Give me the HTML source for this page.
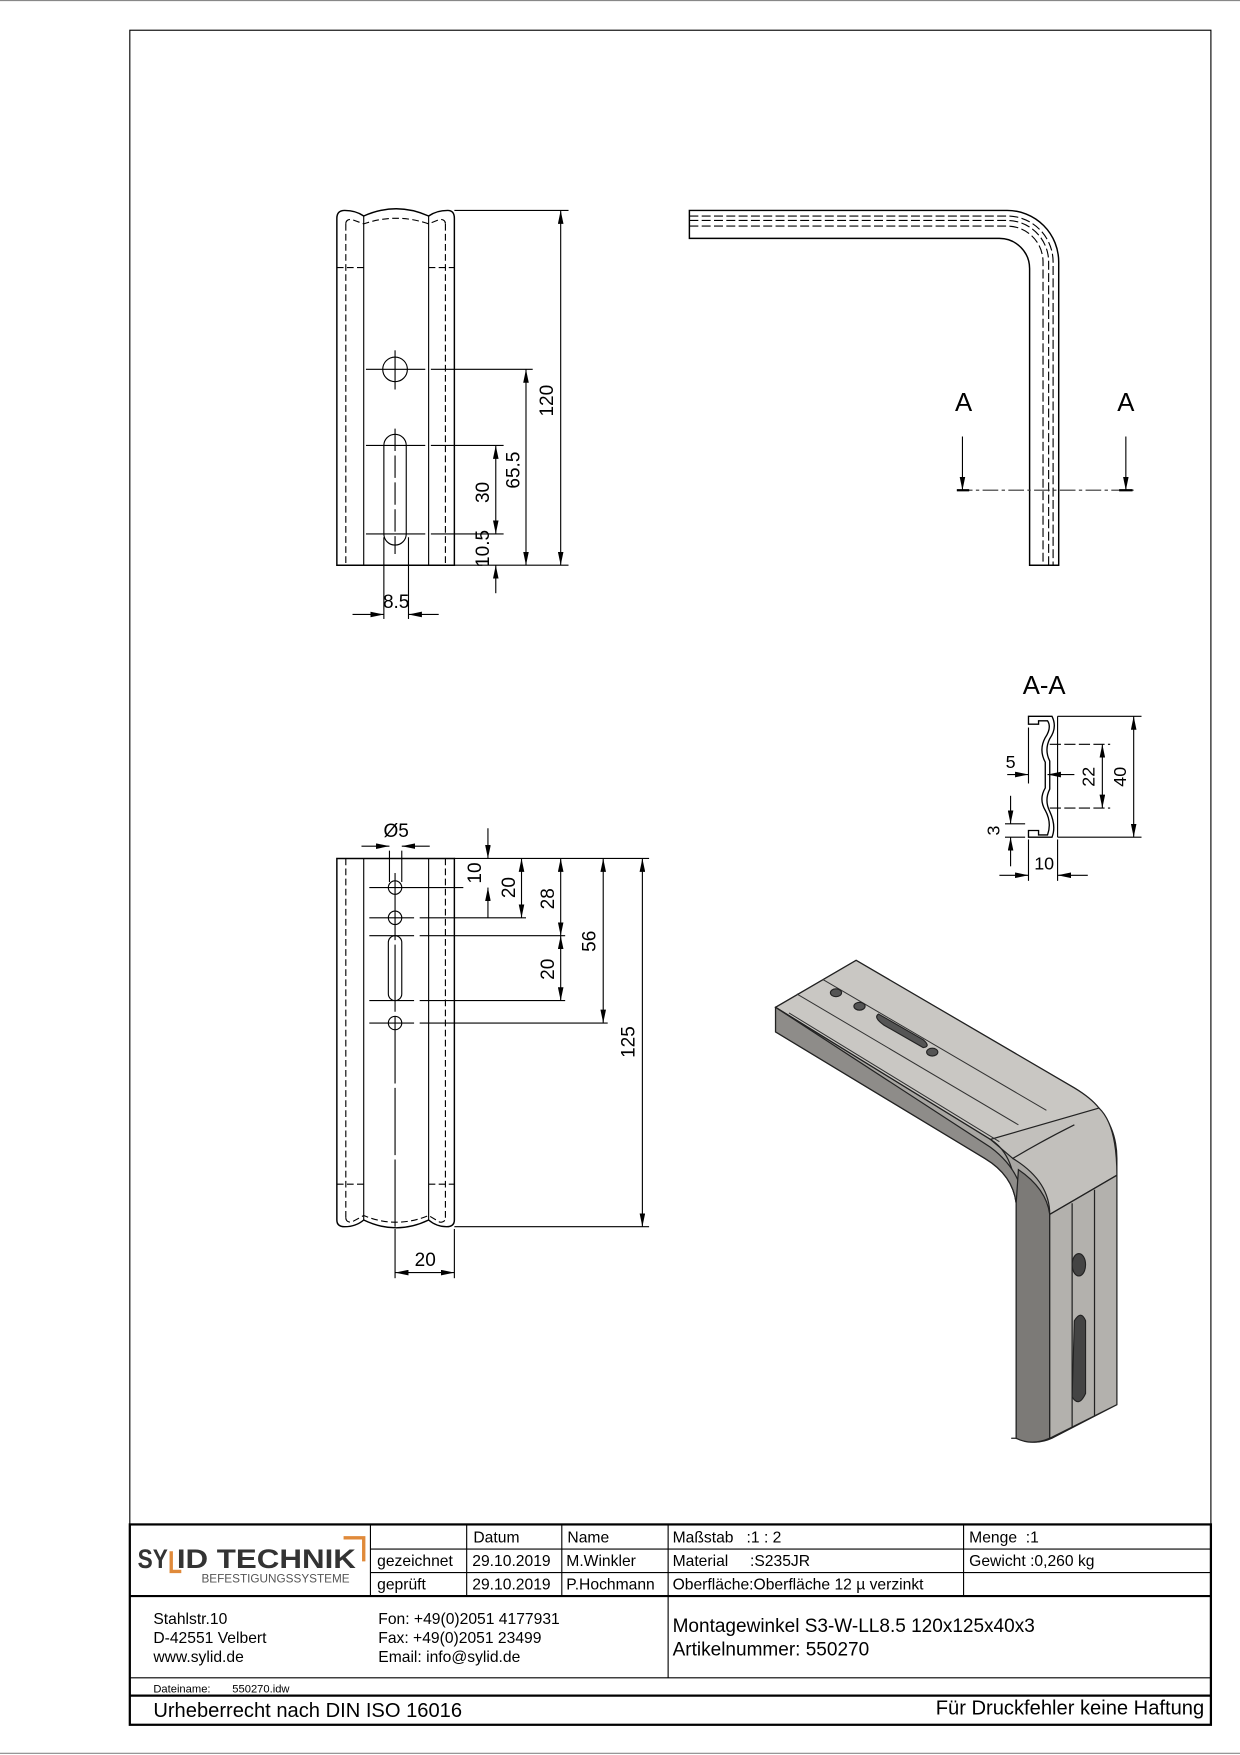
<!DOCTYPE html>
<html><head><meta charset="utf-8"><style>
html,body{margin:0;padding:0;background:#fff}
svg{display:block}
text{font-family:"Liberation Sans",sans-serif;fill:#000}
</style></head><body>
<svg width="1240" height="1755" viewBox="0 0 1108 1568" preserveAspectRatio="none" xmlns="http://www.w3.org/2000/svg">
<defs>
<marker id="a" viewBox="0 0 12 5" refX="12" refY="2.5" markerWidth="12" markerHeight="5" orient="auto-start-reverse" markerUnits="userSpaceOnUse"><path d="M0,0 L12,2.5 L0,5z" fill="#000"/></marker>
</defs>
<g stroke="#000" fill="none" stroke-width="1">
<line x1="0" y1="0.5" x2="1108" y2="0.5" stroke="#888"/>
<line x1="0" y1="1566.5" x2="1108" y2="1566.5" stroke="#888"/>
<rect x="116" y="27" width="966" height="1514" stroke-width="1"/>

<!-- Front view 1 -->
<path d="M301,505 V195 Q301,188 308,188 Q318,188 325,193 Q354,180 383,193 Q390,188 400,188 Q406,188 406,195 V505 Z" stroke-width="1.3"/>
<line x1="325" y1="193" x2="325" y2="505"/><line x1="383" y1="193" x2="383" y2="505"/>
<g stroke-dasharray="6,3">
<line x1="309" y1="200" x2="309" y2="505"/><line x1="398" y1="200" x2="398" y2="505"/>
<path d="M309,200 Q309,196 314,196 L325,200 Q354,190 383,200 L393,196 Q398,196 398,200"/>
<line x1="301" y1="239" x2="325" y2="239"/><line x1="383" y1="239" x2="406" y2="239"/>
</g>
<circle cx="353" cy="330" r="11"/>
<path d="M343,398 A10,10 0 0 1 363,398 V477 A10,10 0 0 1 343,477 Z"/>
<line x1="353" y1="313" x2="353" y2="348"/><line x1="353" y1="383" x2="353" y2="495" stroke-dasharray="20,4"/>
<line x1="327" y1="330" x2="380" y2="330"/><line x1="327" y1="398" x2="380" y2="398"/><line x1="327" y1="477" x2="380" y2="477"/>
<line x1="385" y1="330" x2="476" y2="330"/><line x1="385" y1="398" x2="450" y2="398"/><line x1="385" y1="477" x2="450" y2="477"/>
<line x1="406" y1="188" x2="508" y2="188"/><line x1="406" y1="505" x2="508" y2="505"/>
<line x1="501" y1="188" x2="501" y2="505" marker-start="url(#a)" marker-end="url(#a)"/>
<line x1="470" y1="330" x2="470" y2="505" marker-start="url(#a)" marker-end="url(#a)"/>
<line x1="443" y1="398" x2="443" y2="477" marker-start="url(#a)" marker-end="url(#a)"/>
<line x1="443" y1="530" x2="443" y2="505" marker-end="url(#a)"/>
<line x1="427" y1="505" x2="431" y2="505"/>
<line x1="343" y1="480" x2="343" y2="553"/><line x1="365" y1="480" x2="365" y2="553"/>
<line x1="315" y1="549" x2="343" y2="549" marker-end="url(#a)"/><line x1="392" y1="549" x2="365" y2="549" marker-end="url(#a)"/>
</g>
<text x="354" y="543" font-size="17" text-anchor="middle">8.5</text>
<text transform="translate(494,358) rotate(-90)" font-size="17" text-anchor="middle">120</text>
<text transform="translate(464,420) rotate(-90)" font-size="17" text-anchor="middle">65.5</text>
<text transform="translate(437,440) rotate(-90)" font-size="17" text-anchor="middle">30</text>
<text transform="translate(437,490) rotate(-90)" font-size="17" text-anchor="middle">10.5</text>

<!-- Side view -->
<g stroke="#000" fill="none">
<path d="M616,188 H900 A46,46 0 0 1 946,234 V505 H920 V240 A27,27 0 0 0 893,213 H616 Z" stroke-width="1.3"/>
<g stroke-dasharray="8,3">
<path d="M616,193 H900 A41,41 0 0 1 941,234 V505"/>
<path d="M616,197 H900 A37,37 0 0 1 937,234 V505"/>
<path d="M616,202 H900 A32,32 0 0 1 932,234 V505"/>
</g>
<line x1="855" y1="438" x2="1013" y2="438" stroke-dasharray="14,3,3,3" stroke="#333"/>
<line x1="855" y1="438" x2="866" y2="438" stroke-width="2"/><line x1="1000" y1="438" x2="1012" y2="438" stroke-width="2"/>
<line x1="860" y1="390" x2="860" y2="438" marker-end="url(#a)"/>
<line x1="1006" y1="390" x2="1006" y2="438" marker-end="url(#a)"/>
</g>
<text x="861" y="367" font-size="23" text-anchor="middle">A</text>
<text x="1006" y="367" font-size="23" text-anchor="middle">A</text>

<!-- Section A-A -->
<text x="933" y="620" font-size="23" text-anchor="middle">A-A</text>
<g stroke="#000" fill="none">
<path d="M919,640 H940 Q945,650 938,660 Q933,670 938,680 V705 Q933,715 938,725 Q944,738 940,748 H919 V742 H928 V746 H936 Q940,735 934,724 Q928,714 934,704 V681 Q928,670 934,659 Q940,650 936,644 H928 V647 H919 Z" stroke-width="1.2"/>
<line x1="945" y1="640" x2="945" y2="748"/>
<line x1="945" y1="640" x2="1020" y2="640"/><line x1="945" y1="748" x2="1020" y2="748"/>
<line x1="1013" y1="640" x2="1013" y2="748" marker-start="url(#a)" marker-end="url(#a)"/>
<line x1="938" y1="665" x2="992" y2="665" stroke-dasharray="10,3"/><line x1="938" y1="722" x2="992" y2="722" stroke-dasharray="10,3"/>
<line x1="985" y1="665" x2="985" y2="722" marker-start="url(#a)" marker-end="url(#a)"/>
<line x1="919" y1="650" x2="919" y2="700"/>
<line x1="900" y1="692" x2="919" y2="692" marker-end="url(#a)"/><line x1="960" y1="692" x2="936" y2="692" marker-end="url(#a)"/>
<line x1="919" y1="750" x2="919" y2="787"/><line x1="945" y1="750" x2="945" y2="787"/>
<line x1="893" y1="782" x2="919" y2="782" marker-end="url(#a)"/><line x1="972" y1="782" x2="945" y2="782" marker-end="url(#a)"/>
<line x1="903" y1="711" x2="903" y2="736" marker-end="url(#a)"/><line x1="903" y1="774" x2="903" y2="748" marker-end="url(#a)"/>
<line x1="898" y1="736" x2="916" y2="736"/><line x1="898" y1="748" x2="916" y2="748"/>
</g>
<text x="903" y="686" font-size="16" text-anchor="middle">5</text>
<text transform="translate(978,694) rotate(-90)" font-size="16" text-anchor="middle">22</text>
<text transform="translate(1006,694) rotate(-90)" font-size="16" text-anchor="middle">40</text>
<text transform="translate(893,742) rotate(-90)" font-size="16" text-anchor="middle">3</text>
<text x="933" y="777" font-size="16" text-anchor="middle">10</text>

<!-- Front view 2 -->
<g stroke="#000" fill="none">
<path d="M301,767 H406 V1090 Q406,1096 399,1096 Q390,1096 383,1090 Q354,1104 325,1090 Q318,1096 308,1096 Q301,1096 301,1090 Z" stroke-width="1.3"/>
<line x1="325" y1="767" x2="325" y2="1090"/><line x1="383" y1="767" x2="383" y2="1090"/>
<g stroke-dasharray="6,3">
<line x1="309" y1="767" x2="309" y2="1088"/><line x1="398" y1="767" x2="398" y2="1088"/>
<path d="M309,1088 Q309,1092 314,1092 L325,1086 Q354,1098 383,1086 L393,1092 Q398,1092 398,1088"/>
<line x1="301" y1="1058" x2="325" y2="1058"/><line x1="383" y1="1058" x2="406" y2="1058"/>
</g>
<circle cx="353" cy="793" r="6"/><circle cx="353" cy="820" r="6"/><circle cx="353" cy="914" r="6"/>
<path d="M347,842 A6,6 0 0 1 359,842 V888 A6,6 0 0 1 347,888 Z"/>
<line x1="353" y1="780" x2="353" y2="1096" stroke-dasharray="60,4"/>
<line x1="330" y1="793" x2="414" y2="793"/>
<line x1="330" y1="820" x2="370" y2="820"/><line x1="375" y1="820" x2="470" y2="820"/>
<line x1="330" y1="836" x2="370" y2="836"/><line x1="375" y1="836" x2="505" y2="836"/>
<line x1="330" y1="894" x2="370" y2="894"/><line x1="375" y1="894" x2="505" y2="894"/>
<line x1="330" y1="914" x2="370" y2="914"/><line x1="375" y1="914" x2="543" y2="914"/>
<line x1="406" y1="767" x2="580" y2="767"/><line x1="406" y1="1096" x2="580" y2="1096"/>
<line x1="436" y1="740" x2="436" y2="767" marker-end="url(#a)"/><line x1="436" y1="820" x2="436" y2="793" marker-end="url(#a)"/>
<line x1="466" y1="767" x2="466" y2="820" marker-start="url(#a)" marker-end="url(#a)"/>
<line x1="501" y1="767" x2="501" y2="836" marker-start="url(#a)" marker-end="url(#a)"/>
<line x1="501" y1="836" x2="501" y2="894" marker-start="url(#a)" marker-end="url(#a)"/>
<line x1="539" y1="767" x2="539" y2="914" marker-start="url(#a)" marker-end="url(#a)"/>
<line x1="574" y1="767" x2="574" y2="1096" marker-start="url(#a)" marker-end="url(#a)"/>
<line x1="348" y1="760" x2="348" y2="788"/><line x1="359" y1="760" x2="359" y2="788"/>
<line x1="323" y1="756" x2="348" y2="756" marker-end="url(#a)"/><line x1="384" y1="756" x2="359" y2="756" marker-end="url(#a)"/>
<line x1="353" y1="1098" x2="353" y2="1142"/><line x1="406" y1="1098" x2="406" y2="1142"/>
<line x1="353" y1="1137" x2="406" y2="1137" marker-start="url(#a)" marker-end="url(#a)"/>
</g>
<text x="354" y="748" font-size="17" text-anchor="middle">Ø5</text>
<text transform="translate(430,780) rotate(-90)" font-size="17" text-anchor="middle">10</text>
<text transform="translate(460,793) rotate(-90)" font-size="17" text-anchor="middle">20</text>
<text transform="translate(495,803) rotate(-90)" font-size="17" text-anchor="middle">28</text>
<text transform="translate(495,866) rotate(-90)" font-size="17" text-anchor="middle">20</text>
<text transform="translate(532,841) rotate(-90)" font-size="17" text-anchor="middle">56</text>
<text transform="translate(567,931) rotate(-90)" font-size="17" text-anchor="middle">125</text>
<text x="380" y="1131" font-size="17" text-anchor="middle">20</text>

<!-- Iso -->
<g stroke="#222" stroke-width="1.1">
<!-- full silhouette -->
<path d="M693,900 L765,858 L960,972 Q998,995 998,1035 V1255 L940,1285 Q925,1292 908,1285 V1075 Q905,1050 880,1035 L693,922 Z" fill="#a8a6a2"/>
<!-- top face horizontal arm -->
<path d="M693,900 L765,858 L960,972 Q975,981 982,990 L905,1035 Q898,1026 885,1018 Z" fill="#c9c7c3"/>
<!-- bend top -->
<path d="M885,1018 L905,1035 Q938,1055 938,1085 L998,1050 Q998,1005 982,990 Z" fill="#c2c0bc"/>
<!-- front thickness edge horizontal arm -->
<path d="M693,900 L885,1018 Q908,1032 908,1075 V1285 Q900,1285 908,1285" fill="none"/>
<path d="M693,900 L693,922 L880,1035 Q905,1050 908,1075 L915,1075 Q912,1045 885,1025 Z" fill="#8e8c89"/>
<!-- vertical arm left dark face -->
<path d="M908,1075 V1285 Q922,1292 938,1285 V1085 Q935,1062 910,1045 Z" fill="#7c7a77"/>
<!-- vertical front face -->
<path d="M938,1085 L998,1050 V1255 L938,1285 Z" fill="#b3b1ad"/>
<path d="M958,1075 V1275 M978,1063 V1265" fill="none"/>
<path d="M712,888 L910,1005 M735,875 L935,992 M705,905 L893,1020" fill="none" stroke="#333" stroke-width="0.9"/>
<path d="M905,1035 Q930,1020 960,1005 M938,1085 L998,1050" fill="none"/>
</g>
<g fill="#555" stroke="#222">
<ellipse cx="747" cy="887" rx="5" ry="3.5"/><ellipse cx="768" cy="899" rx="5" ry="3.5"/>
<path d="M785,906 L825,929 Q832,935 825,936 L790,916 Q780,909 785,906 Z"/>
<ellipse cx="833" cy="940" rx="5" ry="3.5"/>
<ellipse cx="964" cy="1130" rx="6" ry="10" fill="#444"/>
<path d="M960,1180 Q966,1170 970,1180 V1245 Q964,1258 958,1248 Z" fill="#444"/>
</g>

<!-- Title block -->
<g stroke="#000" fill="none" stroke-width="1">
<rect x="116" y="1362" width="966" height="179" stroke-width="2"/>
<line x1="331" y1="1384" x2="1082" y2="1384"/>
<line x1="331" y1="1405" x2="1082" y2="1405"/>
<line x1="116" y1="1426" x2="1082" y2="1426" stroke-width="2"/>
<line x1="116" y1="1499" x2="1082" y2="1499"/>
<line x1="116" y1="1515" x2="1082" y2="1515" stroke-width="2"/>
<line x1="331" y1="1362" x2="331" y2="1426"/>
<line x1="417" y1="1362" x2="417" y2="1426"/>
<line x1="502" y1="1362" x2="502" y2="1426"/>
<line x1="597" y1="1362" x2="597" y2="1499"/>
<line x1="861" y1="1362" x2="861" y2="1426"/>
<path d="M307,1374 H325 V1395" stroke="#e08a3a" stroke-width="3"/>
<path d="M153,1386 V1404 H162" stroke="#e08a3a" stroke-width="3"/>
</g>
<text x="123" y="1401" font-size="24" font-weight="bold" textLength="27" lengthAdjust="spacingAndGlyphs" style="fill:#333">SY</text>
<text x="158" y="1401" font-size="24" font-weight="bold" textLength="160" lengthAdjust="spacingAndGlyphs" style="fill:#333">ID TECHNIK</text>
<text x="180" y="1414" font-size="10.5" style="fill:#555">BEFESTIGUNGSSYSTEME</text>
<g font-size="14">
<text x="423" y="1378">Datum</text><text x="507" y="1378">Name</text>
<text x="601" y="1378">Maßstab&#160;&#160;&#160;:1 : 2</text><text x="866" y="1378">Menge&#160;&#160;:1</text>
<text x="337" y="1399">gezeichnet</text><text x="422" y="1399">29.10.2019</text><text x="506" y="1399">M.Winkler</text>
<text x="601" y="1399">Material&#160;&#160;&#160;&#160;&#160;:S235JR</text><text x="866" y="1399">Gewicht :0,260 kg</text>
<text x="337" y="1420">geprüft</text><text x="422" y="1420">29.10.2019</text><text x="506" y="1420">P.Hochmann</text>
<text x="601" y="1420">Oberfläche:Oberfläche 12 µ verzinkt</text>
<text x="137" y="1451">Stahlstr.10</text><text x="137" y="1468">D-42551 Velbert</text><text x="137" y="1485">www.sylid.de</text>
<text x="338" y="1451">Fon: +49(0)2051 4177931</text><text x="338" y="1468">Fax: +49(0)2051 23499</text><text x="338" y="1485">Email: info@sylid.de</text>
</g>
<text x="601" y="1458" font-size="17">Montagewinkel S3-W-LL8.5 120x125x40x3</text>
<text x="601" y="1479" font-size="17">Artikelnummer: 550270</text>
<text x="137" y="1512" font-size="10">Dateiname:&#160;&#160;&#160;&#160;&#160;&#160;&#160;550270.idw</text>
<text x="137" y="1534" font-size="18">Urheberrecht nach DIN ISO 16016</text>
<text x="1076" y="1532" font-size="18" text-anchor="end">Für Druckfehler keine Haftung</text>
</svg>
</body></html>
